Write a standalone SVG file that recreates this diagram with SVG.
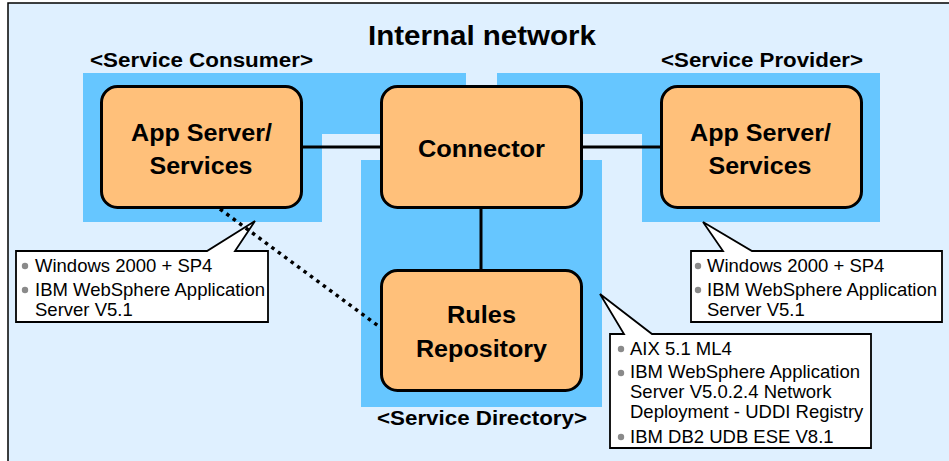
<svg xmlns="http://www.w3.org/2000/svg" width="949" height="461" viewBox="0 0 949 461">
<style>
.region{fill:#66C6FF}
.node{fill:#FFC07A;stroke:#000;stroke-width:3}
.lbl{font-family:"Liberation Sans",Arial,sans-serif;font-weight:bold;fill:#000}
.nl{font-size:24px;text-anchor:middle}
.gl{font-size:20px}
.callout{fill:#fff;stroke:#000;stroke-width:1.8;stroke-linejoin:miter}
.ct{font-family:"Liberation Sans",Arial,sans-serif;font-size:18.5px;fill:#000}
.bul{fill:#8a8a8a}
.conn{stroke:#000;stroke-width:3;fill:none}
.dot{stroke:#000;stroke-width:3.5;fill:none;stroke-dasharray:3.5 4.5}
</style>
<rect x="0" y="0" width="949" height="461" fill="#fff"/>
<rect x="8" y="3" width="960" height="480" fill="#DFF0FF" stroke="#000" stroke-width="1.5"/>
<text class="lbl" x="368" y="45" font-size="27" textLength="228" lengthAdjust="spacingAndGlyphs">Internal network</text>

<g id="region-consumer">
<path class="region" d="M83,73 H466 V134 H322 V222 H83 Z"/>
<text class="lbl gl" x="90" y="66.5" textLength="223" lengthAdjust="spacingAndGlyphs">&lt;Service Consumer&gt;</text>
</g>
<g id="region-directory">
<rect class="region" x="361" y="160" width="241" height="247"/>
<text class="lbl gl" x="377" y="425" textLength="210" lengthAdjust="spacingAndGlyphs">&lt;Service Directory&gt;</text>
</g>
<g id="region-provider">
<path class="region" d="M497,73 H880 V222 H642 V134 H497 Z"/>
<text class="lbl gl" x="661" y="66.5" textLength="202" lengthAdjust="spacingAndGlyphs">&lt;Service Provider&gt;</text>
</g>

<g id="callout-consumer">
<path class="callout" d="M16,251 H207 L255,221 L235,251 H268 V322 H16 Z"/>
<circle class="bul" cx="25" cy="266" r="3.2"/>
<circle class="bul" cx="25" cy="290" r="3.2"/>
<text class="ct" x="35" y="272">Windows 2000 + SP4</text>
<text class="ct" x="35" y="296">IBM WebSphere Application</text>
<text class="ct" x="35" y="316">Server V5.1</text>
</g>
<g id="callout-provider">
<path class="callout" d="M691,251 H723 L703,222 L752,251 H942 V322 H691 Z"/>
<circle class="bul" cx="698" cy="266" r="3.2"/>
<circle class="bul" cx="698" cy="290" r="3.2"/>
<text class="ct" x="707" y="272">Windows 2000 + SP4</text>
<text class="ct" x="707" y="296">IBM WebSphere Application</text>
<text class="ct" x="707" y="316">Server V5.1</text>
</g>
<g id="callout-directory">
<path class="callout" d="M610,334 H624 L600,294 L652,334 H871 V448 H610 Z"/>
<circle class="bul" cx="621" cy="349" r="3.2"/>
<circle class="bul" cx="621" cy="373" r="3.2"/>
<circle class="bul" cx="621" cy="437" r="3.2"/>
<text class="ct" x="630" y="355">AIX 5.1 ML4</text>
<text class="ct" x="630" y="378">IBM WebSphere Application</text>
<text class="ct" x="630" y="398">Server V5.0.2.4 Network</text>
<text class="ct" x="630" y="418">Deployment - UDDI Registry</text>
<text class="ct" x="630" y="443">IBM DB2 UDB ESE V8.1</text>
</g>

<g id="connectors">
<line class="conn" x1="302" y1="147" x2="381" y2="147"/>
<line class="conn" x1="582" y1="147" x2="661" y2="147"/>
<line class="conn" x1="481" y1="208" x2="481" y2="270"/>
<line class="dot" x1="220" y1="209" x2="381" y2="328"/>
</g>

<g id="node-consumer">
<rect class="node" x="101.5" y="86.5" width="200" height="121" rx="16"/>
<text class="lbl nl" x="201.5" y="141" textLength="141" lengthAdjust="spacingAndGlyphs">App Server/</text>
<text class="lbl nl" x="201" y="173.5" textLength="103" lengthAdjust="spacingAndGlyphs">Services</text>
</g>
<g id="node-connector">
<rect class="node" x="381.5" y="86.5" width="200" height="121" rx="16"/>
<text class="lbl nl" x="481.5" y="157" textLength="127" lengthAdjust="spacingAndGlyphs">Connector</text>
</g>
<g id="node-provider">
<rect class="node" x="661.5" y="86.5" width="200" height="121" rx="16"/>
<text class="lbl nl" x="760.5" y="141" textLength="141" lengthAdjust="spacingAndGlyphs">App Server/</text>
<text class="lbl nl" x="760" y="173.5" textLength="103" lengthAdjust="spacingAndGlyphs">Services</text>
</g>
<g id="node-rules">
<rect class="node" x="381.5" y="270.5" width="200" height="120" rx="16"/>
<text class="lbl nl" x="481.5" y="323" textLength="69" lengthAdjust="spacingAndGlyphs">Rules</text>
<text class="lbl nl" x="481.5" y="356.5" textLength="131" lengthAdjust="spacingAndGlyphs">Repository</text>
</g>
</svg>
